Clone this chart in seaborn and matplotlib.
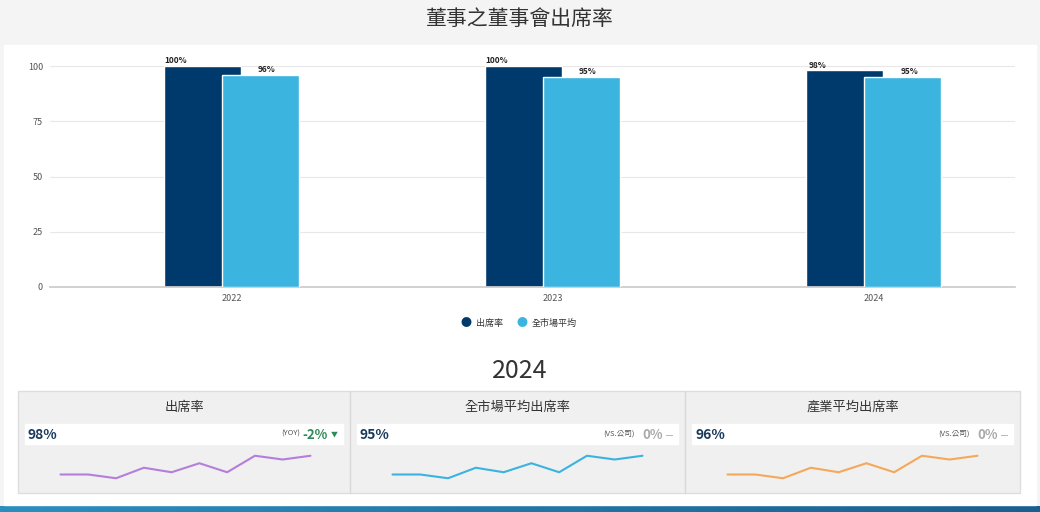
import matplotlib
matplotlib.use("Agg")
import matplotlib.pyplot as plt
import seaborn as sns
import pandas as pd
import numpy as np
from matplotlib.patches import Rectangle

sns.set_theme(style="white")
plt.rcParams['font.family'] = ['Noto Sans CJK TC', 'DejaVu Sans']

years = ["2022", "2023", "2024"]
attendance = [100, 100, 98]
market_avg = [96, 95, 95]
bar_labels_a = ["100%", "100%", "98%"]
bar_labels_m = ["96%", "95%", "95%"]

# sparkline values (relative)
spark = [2.5, 2.5, 2.0, 3.4, 2.8, 4.0, 2.8, 5.0, 4.5, 5.0]
cards = ["出席率", "全市場平均出席率", "產業平均出席率"]
card_values = ["98%", "95%", "96%"]
card_notes = ["(YOY)", "(VS.公司)", "(VS.公司)"]
card_deltas = ["-2%", "0%", "0%"]
spark_colors = ["#b57edc", "#3bb3e0", "#f5a85a"]

DARK = "#003a6c"
LIGHT = "#3cb4e0"

fig = plt.figure(figsize=(10.4, 5.12), dpi=100)
fig.patch.set_facecolor("#f4f4f4")

# white panel behind chart and year section
bg = fig.add_axes([0, 0, 1, 1], zorder=-10)
bg.axis("off")
bg.set_xlim(0, 1040); bg.set_ylim(512, 0)
bg.add_patch(Rectangle((4, 45), 1032, 460, color="white"))
bg.add_patch(Rectangle((18, 391), 1002, 102, facecolor="#f0f0f0", edgecolor="#dddddd"))
for x in (350, 685):
    bg.plot([x, x], [391, 493], color="#d8d8d8", lw=1)
grad = np.linspace(0, 1, 256)[None, :]
bg.imshow(grad, extent=(0, 1040, 512, 506), cmap=matplotlib.colors.LinearSegmentedColormap.from_list("g", ["#2a8fbf", "#1a5f8f"]), aspect="auto")
bg.set_xlim(0, 1040); bg.set_ylim(512, 0)

fig.text(0.5, 0.963, "董事之董事會出席率", ha="center", va="center", fontsize=15, color="#333333")

ax = fig.add_axes([50/1040, 1-287/512, 965/1040, 221/512*1.03])
ax.set_facecolor("white")
idx = np.arange(len(years))
df_a = pd.DataFrame({"x": idx - 0.09, "v": attendance})
df_m = pd.DataFrame({"x": idx + 0.09, "v": market_avg})
sns.barplot(data=df_a, x="x", y="v", color=DARK, native_scale=True, width=0.24, ax=ax, saturation=1, zorder=2)
sns.barplot(data=df_m, x="x", y="v", color=LIGHT, native_scale=True, width=0.24, ax=ax, saturation=1, zorder=3)
for i in idx:
    ax.text(i - 0.175, attendance[i] + 0.3, bar_labels_a[i], ha="center", va="bottom", fontsize=6, color="#222222", fontweight="bold", zorder=5)
    ax.text(i + 0.11, market_avg[i] + 0.3, bar_labels_m[i], ha="center", va="bottom", fontsize=6, color="#222222", fontweight="bold", zorder=5)
ax.set_xlim(-0.565, 2.44)
ax.set_ylim(0, 103)
ax.set_xticks(idx)
ax.set_xticklabels(years, fontsize=6.5, color="#555555")
ax.set_yticks([0, 25, 50, 75, 100])
ax.set_yticklabels(["0", "25", "50", "75", "100"], fontsize=6.5, color="#555555")
ax.yaxis.grid(True, color="#e8e8e8", lw=0.8, zorder=0)
ax.set_axisbelow(True)
ax.set_xlabel(""); ax.set_ylabel("")
for s in ("top", "right", "left"):
    ax.spines[s].set_visible(False)
ax.spines["bottom"].set_color("#cccccc")
ax.tick_params(length=0, pad=5)

# legend
fig.text(466/1040, 1-323/512, "●", color=DARK, fontsize=8, va="center", ha="center")
fig.text(476/1040, 1-323/512, "出席率", fontsize=6.5, va="center", color="#333333")
fig.text(522/1040, 1-323/512, "●", color=LIGHT, fontsize=8, va="center", ha="center")
fig.text(532/1040, 1-323/512, "全市場平均", fontsize=6.5, va="center", color="#333333")

fig.text(0.5, 1-371/512, "2024", ha="center", va="center", fontsize=18, color="#333333")

lefts = [18, 350, 685]
for k in range(3):
    x0 = lefts[k]
    w = (350 if k < 2 else 1020) - x0 if k < 2 else 1020 - x0
    if k == 0: w = 332
    elif k == 1: w = 335
    fig.text((x0 + w/2)/1040, 1-407/512, cards[k], ha="center", va="center", fontsize=9.5, color="#333333")
    bg.add_patch(Rectangle((x0 + 7, 424), w - 14, 20, color="white"))
    fig.text((x0 + 10)/1040, 1-435/512, card_values[k], ha="left", va="center", fontsize=10, fontweight="bold", color="#1a3a5c")
    dcol = "#2e8b57" if k == 0 else "#aaaaaa"
    sym = "▼" if k == 0 else "━"
    fig.text((x0 + w - 12)/1040, 1-435/512, sym, ha="right", va="center", fontsize=5, color=dcol)
    fig.text((x0 + w - 22)/1040, 1-435/512, card_deltas[k], ha="right", va="center", fontsize=9.5, fontweight="bold", color=dcol)
    fig.text((x0 + w - 50)/1040, 1-434/512, card_notes[k], ha="right", va="center", fontsize=5.5, color="#555555")
    sax = fig.add_axes([(x0 + 30)/1040, 1-482/512, 275/1040, 30/512])
    sax.axis("off")
    sns.lineplot(x=np.arange(len(spark)), y=spark, color=spark_colors[k], lw=1.5, ax=sax)
    sax.set_ylim(1.5, 5.5)

fig.savefig("out.png", dpi=100, facecolor=fig.get_facecolor())
